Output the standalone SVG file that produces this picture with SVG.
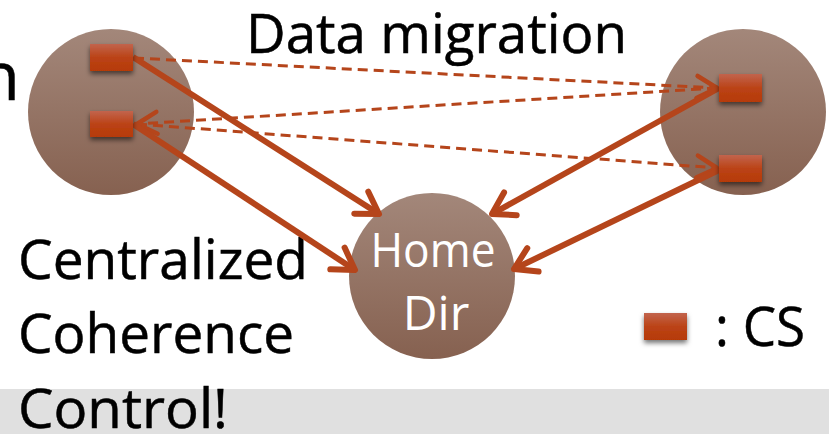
<svg xmlns="http://www.w3.org/2000/svg" width="829" height="434" viewBox="0 0 829 434">
  <defs>
    <linearGradient id="ballFill" x1="0" y1="0" x2="0" y2="1">
      <stop offset="0" stop-color="#a3877a"/>
      <stop offset="1" stop-color="#866150"/>
    </linearGradient>
    <linearGradient id="csFill" x1="0" y1="0" x2="0" y2="1">
      <stop offset="0" stop-color="#c2644d"/>
      <stop offset="0.5" stop-color="#bb4317"/>
      <stop offset="1" stop-color="#b63a06"/>
    </linearGradient>
    <filter id="csShadow" x="-30%" y="-30%" width="160%" height="180%">
      <feDropShadow dx="0" dy="3" stdDeviation="2.5" flood-color="#000" flood-opacity="0.55"/>
    </filter>
    <marker id="chevron" markerUnits="userSpaceOnUse" markerWidth="40" markerHeight="40" viewBox="-30 -20 40 40" refX="0" refY="0" orient="auto" overflow="visible">
      <path d="M-21,-13 L0,0 L-21,13" fill="none" stroke="#b5451b" stroke-width="6" stroke-linecap="round" stroke-linejoin="round"/>
    </marker>
    <marker id="chevronThin" markerUnits="userSpaceOnUse" markerWidth="40" markerHeight="40" viewBox="-30 -20 40 40" refX="0" refY="0" orient="auto" overflow="visible">
      <path d="M-20,-11 L0,0 L-20,11" fill="none" stroke="#b5451b" stroke-width="4.5" stroke-linecap="round" stroke-linejoin="round"/>
    </marker>
  </defs>
  <style>
    .ball { fill: url(#ballFill); }
    .cs { fill: url(#csFill); filter: url(#csShadow); }
    .txt { font-family: "Open Sans", "Liberation Sans", sans-serif; fill: #000; stroke: #000; stroke-width: 0.5; }
    .home { font-family: "Open Sans", "Liberation Sans", sans-serif; fill: #fff; font-size: 48px; text-anchor: middle; }
    .solid { fill: none; stroke: #b5451b; stroke-width: 6; stroke-linecap: butt; marker-end: url(#chevron); }
    .dash { fill: none; stroke: #b5451b; stroke-width: 3; stroke-dasharray: 10 6; marker-end: url(#chevronThin); }
  </style>

  <!-- shaded band at the bottom -->
  <rect x="0" y="389" width="829" height="45" fill="#e0e0e0"/>

  <!-- labels -->
  <text class="txt" x="20" y="100" font-size="68" text-anchor="end">n</text>
  <text class="txt" x="246" y="53" font-size="54" textLength="381" lengthAdjust="spacingAndGlyphs">Data migration</text>
  <text class="txt" x="18" y="279" font-size="54" textLength="290" lengthAdjust="spacingAndGlyphs">Centralized</text>
  <text class="txt" x="18" y="353" font-size="54" textLength="276" lengthAdjust="spacingAndGlyphs">Coherence</text>
  <text class="txt" x="18" y="428" font-size="54" textLength="210" lengthAdjust="spacingAndGlyphs">Control!</text>

  <!-- processor clusters and home directory -->
  <g id="cluster-left"><circle class="ball" cx="111" cy="112" r="83"/></g>
  <g id="cluster-right"><circle class="ball" cx="743" cy="112" r="83"/></g>
  <g id="home-dir">
    <circle class="ball" cx="432" cy="276" r="83"/>
    <text class="home" x="433" y="267" textLength="125" lengthAdjust="spacingAndGlyphs">Home</text>
    <text class="home" x="436" y="330">Dir</text>
  </g>

  <!-- connectors -->
  <g id="connectors">
    <line class="dash" x1="134" y1="58" x2="717" y2="88"/>
    <line class="dash" x1="717" y1="88" x2="137" y2="124"/>
    <line class="dash" x1="137" y1="124" x2="717" y2="168"/>
    <line class="solid" x1="133" y1="57" x2="379" y2="214"/>
    <line class="solid" x1="133" y1="124" x2="355" y2="270"/>
    <line class="solid" x1="719" y1="88" x2="492" y2="214"/>
    <line class="solid" x1="719" y1="170" x2="514" y2="269"/>
  </g>

  <!-- CS blocks -->
  <g id="cs-left-top"><rect class="cs" x="90" y="44" width="43" height="27"/></g>
  <g id="cs-left-bottom"><rect class="cs" x="90" y="111" width="43" height="26"/></g>
  <g id="cs-right-top"><rect class="cs" x="719" y="74" width="43" height="28"/></g>
  <g id="cs-right-bottom"><rect class="cs" x="719" y="155" width="43" height="27"/></g>

  <!-- legend -->
  <g id="legend">
    <rect class="cs" x="644" y="313" width="43" height="27"/>
    <text class="txt" x="715" y="346" font-size="54" textLength="90" lengthAdjust="spacingAndGlyphs">: CS</text>
  </g>
</svg>
